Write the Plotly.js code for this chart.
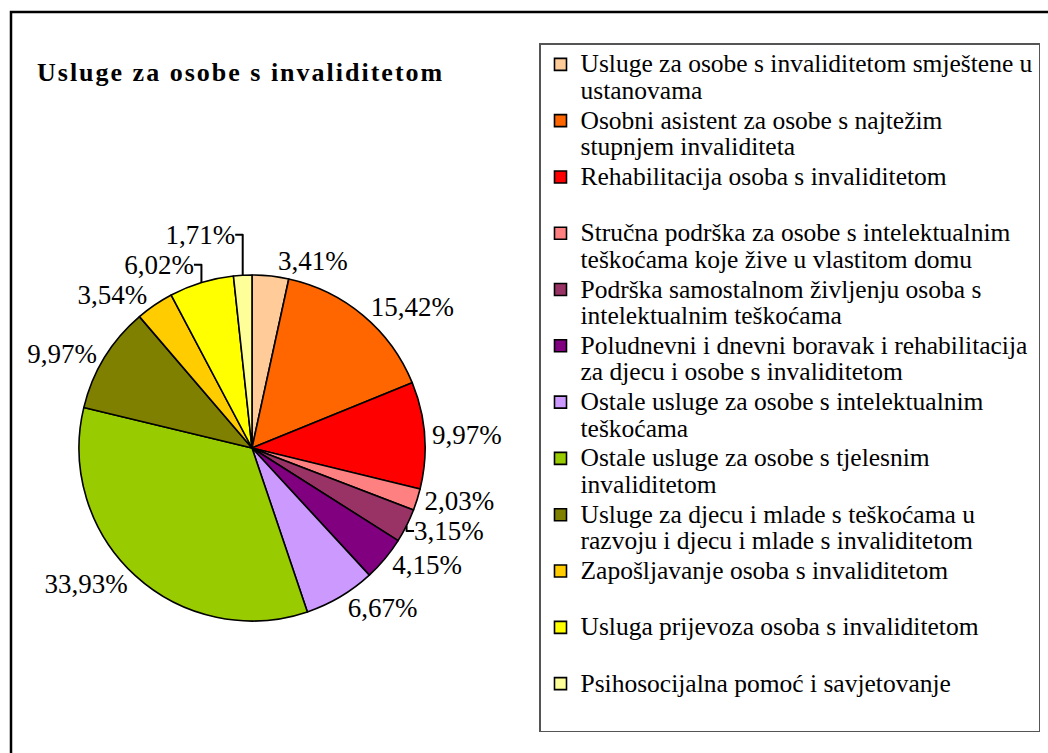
<!DOCTYPE html>
<html>
<head>
<meta charset="utf-8">
<script src="https://cdn.plot.ly/plotly-3.0.1.min.js"></script>
<style>
  html, body { margin: 0; padding: 0; background: #ffffff; }
  #chart { width: 1048px; height: 753px; }
</style>
</head>
<body>
<div id="chart"></div>
<script>
// ---- Data ----
const chartTitle = "Usluge za osobe s invaliditetom";

const categories = [
  "Usluge za osobe s invaliditetom smještene u<br>ustanovama",
  "Osobni asistent za osobe s najtežim<br>stupnjem invaliditeta",
  "Rehabilitacija osoba s invaliditetom<br> ",
  "Stručna podrška za osobe s intelektualnim<br>teškoćama koje žive u vlastitom domu",
  "Podrška samostalnom življenju osoba s<br>intelektualnim teškoćama",
  "Poludnevni i dnevni boravak i rehabilitacija<br>za djecu i osobe s invaliditetom",
  "Ostale usluge za osobe s intelektualnim<br>teškoćama",
  "Ostale usluge za osobe s tjelesnim<br>invaliditetom",
  "Usluge za djecu i mlade s teškoćama u<br>razvoju i djecu i mlade s invaliditetom",
  "Zapošljavanje osoba s invaliditetom<br> ",
  "Usluga prijevoza osoba s invaliditetom<br> ",
  "Psihosocijalna pomoć i savjetovanje<br> "
];

const shares = [3.41, 15.42, 9.97, 2.03, 3.15, 4.15, 6.67, 33.93, 9.97, 3.54, 6.02, 1.71];

const sliceColors = [
  "#FFCC99", "#FF6600", "#FF0000", "#FF8080", "#993366", "#800080",
  "#CC99FF", "#99CC00", "#808000", "#FFCC00", "#FFFF00", "#FFFF99"
];

// ---- Chart ----
const W = 1048, H = 753;
const cx = 252, cy = 448, R = 173;
const serif = "Liberation Serif, Times New Roman, serif";

const legendLabels = categories.map(c => '<span style="font-size:25.5px">' + c + '</span>');

const trace = {
  type: "pie",
  labels: legendLabels,
  values: shares,
  sort: false,
  direction: "clockwise",
  rotation: 0,
  marker: { colors: sliceColors, line: { color: "#000000", width: 1.6 } },
  texttemplate: "%{value:.2f}%",
  textposition: "outside",
  outsidetextfont: { family: serif, size: 27, color: "#000000" },
  hoverinfo: "label+value",
  domain: {
    x: [(cx - R) / W, (cx + R) / W],
    y: [(H - cy - R) / H, (H - cy + R) / H]
  }
};

const layout = {
  width: W,
  height: H,
  margin: { l: 0, r: 0, t: 0, b: 0 },
  paper_bgcolor: "#ffffff",
  separators: ",.",
  title: {
    text: '<span style="letter-spacing:2px"><b>' + chartTitle + '</b></span>',
    x: 37 / W, xanchor: "left", xref: "paper",
    y: 1 - 72 / H, yanchor: "middle", yref: "paper",
    font: { family: serif, size: 26, color: "#000000" }
  },
  showlegend: true,
  legend: {
    x: 539 / W, xanchor: "left",
    y: 1 - 43 / H, yanchor: "top",
    bgcolor: "#ffffff",
    bordercolor: "#555555",
    borderwidth: 1.5,
    valign: "top",
    traceorder: "normal",
    font: { family: serif, size: 20.5, color: "#000000" }
  },
  shapes: [
    {
      type: "rect", xref: "paper", yref: "paper",
      x0: 11 / W, x1: 1.05, y0: -0.05, y1: 1 - 12 / H,
      line: { color: "#000000", width: 2.5 },
      fillcolor: "rgba(0,0,0,0)",
      layer: "below"
    }
  ]
};

Plotly.newPlot("chart", [trace], layout, { displayModeBar: false, staticPlot: true });
</script>
</body>
</html>
